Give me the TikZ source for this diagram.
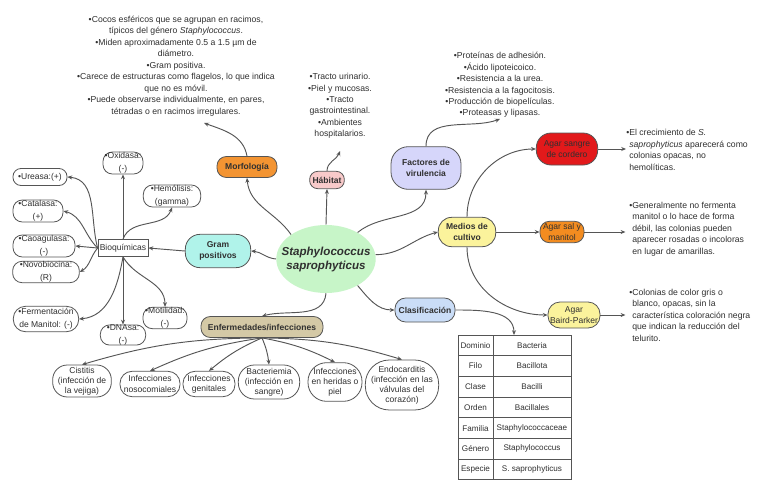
\documentclass[tikz,border=0pt]{standalone}
\usepackage{fontspec}
\setmainfont{Liberation Sans}
\usetikzlibrary{arrows.meta,shapes.geometric}
\definecolor{linec}{HTML}{555555}
\definecolor{txtc}{HTML}{303030}
\definecolor{morfc}{HTML}{F39432}
\definecolor{habc}{HTML}{F8CACA}
\definecolor{gramc}{HTML}{B0F3EA}
\definecolor{factc}{HTML}{D6D6FA}
\definecolor{medc}{HTML}{FBF39C}
\definecolor{sangc}{HTML}{E2191B}
\definecolor{salc}{HTML}{F38C20}
\definecolor{clasc}{HTML}{CADDF7}
\definecolor{enfc}{HTML}{D4C9A6}
\definecolor{centc}{HTML}{C7F5C8}
\newcommand\bgap{\hphantom{•}}
\begin{document}
\begin{tikzpicture}[x=0.75pt, y=-0.75pt, txtc,
  arr/.style = {draw=linec, line width=0.7pt, -{Stealth[length=3.6pt,width=3pt]}},
  topic/.style = {draw=linec, line width=0.6pt, rounded corners=7pt, align=center, inner sep=0pt,
    font=\fontsize{6.4}{7.8}\selectfont\bfseries},
  test/.style = {draw=linec, line width=0.6pt, rounded corners=7pt, fill=white, align=center, inner sep=0pt,
    font=\fontsize{6.4}{9.4}\selectfont},
  dis/.style = {test, font=\fontsize{6.4}{7.6}\selectfont},
  note/.style = {align=center, inner sep=0pt, font=\fontsize{6.5}{8.6}\selectfont},
  side/.style = {note, align=left, anchor=west},
  cell/.style = {draw=linec, line width=0.6pt, inner sep=0pt, font=\fontsize{6.1}{7}\selectfont}]
\useasboundingbox[fill=white] (0,0) rectangle (768,493);

% centro
\node[ellipse, fill=centc, minimum width=73pt, minimum height=51pt, inner xsep=-7pt, inner ysep=0pt, align=center,
  font=\fontsize{8.7}{10.5}\selectfont\bfseries\itshape] (c) at (326,259) {Staphylococcus\\saprophyticus};

% ramas
\node[topic, fill=morfc, minimum width=45pt, minimum height=15.75pt] (morf) at (247,167) {Morfología};
\node[topic, fill=habc, minimum width=26pt, minimum height=13pt, rounded corners=6pt] (hab) at (327,180) {Hábitat};
\node[topic, fill=gramc, minimum width=49pt, minimum height=25pt, rounded corners=11pt] (gram) at (218,251) {Gram\\positivos};
\node[topic, fill=factc, minimum width=52.5pt, minimum height=32pt, rounded corners=13pt] (fact) at (426,168) {Factores de\\virulencia};
\node[topic, fill=medc, minimum width=43pt, minimum height=22pt, rounded corners=10pt] (med) at (467,232) {Medios de\\cultivo};
\node[topic, fill=clasc, minimum width=45pt, minimum height=18pt, rounded corners=8pt] (clas) at (425,310) {Clasificación};
\node[topic, fill=enfc, minimum width=91.5pt, minimum height=15.75pt] (enf) at (262,327) {Enfermedades/infecciones};

% agares
\node[topic, fill=sangc, minimum width=46pt, minimum height=24pt, rounded corners=11pt,
  font=\fontsize{6.4}{7.8}\selectfont] (sang) at (567,149) {Agar sangre\\de cordero};
\node[topic, fill=salc, minimum width=33pt, minimum height=16pt,
  font=\fontsize{6.4}{7.8}\selectfont] (sal) at (562,232) {Agar sal y\\manitol};
\node[topic, fill=medc, minimum width=39pt, minimum height=19.5pt, rounded corners=9pt,
  font=\fontsize{6.4}{7.8}\selectfont] (baird) at (574,315) {Agar\\Baird-Parker};

% textos
\node[note] (morfnote) at (176,66) {•Cocos esféricos que se agrupan en racimos,\\
  típicos del género \textit{Staphylococcus}.\\
  •Miden aproximadamente 0.5 a 1.5 µm de\\
  diámetro.\\
  •Gram positiva.\\
  •Carece de estructuras como flagelos, lo que indica\\
  que no es móvil.\\
  •Puede observarse individualmente, en pares,\\
  tétradas o en racimos irregulares.};
\node[note] (habnote) at (340,106) {•Tracto urinario.\\•Piel y mucosas.\\•Tracto\\gastrointestinal.\\•Ambientes\\hospitalarios.};
\node[note] (factnote) at (500,85) {•Proteínas de adhesión.\\•Ácido lipoteicoico.\\•Resistencia a la urea.\\
  •Resistencia a la fagocitosis.\\•Producción de biopelículas.\\•Proteasas y lipasas.};
\node[side] (sangnote) at (626,150) {•El crecimiento de \textit{S.}\\
  \bgap\textit{saprophyticus} aparecerá como\\\bgap colonias opacas, no\\\bgap hemolíticas.};
\node[side] (salnote) at (629,229) {•Generalmente no fermenta\\\bgap manitol o lo hace de forma\\
  \bgap débil, las colonias pueden\\\bgap aparecer rosadas o incoloras\\\bgap en lugar de amarillas.};
\node[side] (bairdnote) at (629,315) {•Colonias de color gris o\\\bgap blanco, opacas, sin la\\
  \bgap característica coloración negra\\\bgap que indican la reducción del\\\bgap telurito.};
\coordinate (m1) at (204,123);
\coordinate (h1) at (340,151);
\coordinate (f1) at (500,119);

% bioquimicas
\node[draw=linec, line width=0.6pt, fill=white, minimum width=37.5pt, minimum height=12.75pt, inner sep=0pt,
  font=\fontsize{6.4}{7.6}\selectfont] (bq) at (123,248) {Bioquímicas};
\node[test, minimum width=30pt, minimum height=16.5pt] (ox) at (123,163) {•Oxidasa:\\(-)};
\node[test, minimum width=40.5pt, minimum height=12.75pt, rounded corners=6pt] (ure) at (40,177) {•Ureasa:(+)};
\node[test, minimum width=43pt, minimum height=16.5pt] (hem) at (172,196) {•Hemólisis:\\(gamma)};
\node[test, minimum width=37.5pt, minimum height=16.5pt] (cat) at (38,211) {•Catalasa:\\(+)};
\node[test, minimum width=46.5pt, minimum height=16.5pt] (coa) at (44,246) {•Caoagulasa:\\(-)};
\node[test, minimum width=50pt, minimum height=16pt] (nov) at (46,272) {•Novobiocina:\\(R)};
\node[test, minimum width=49pt, minimum height=19pt, rounded corners=9pt] (fer) at (46,319) {•Fermentación\\de Manitol: (-)};
\node[test, minimum width=34pt, minimum height=15pt] (dna) at (123,335) {•DNAsa:\\(-)};
\node[test, minimum width=33pt, minimum height=16pt] (mot) at (165,318) {•Motilidad:\\(-)};

% enfermedades
\node[dis, minimum width=44pt, minimum height=24pt, rounded corners=11pt] (cis) at (82,381) {Cistitis\\(infección de\\la vejiga)};
\node[dis, minimum width=45pt, minimum height=19pt, rounded corners=9pt] (nos) at (150,384) {Infecciones\\nosocomiales};
\node[dis, minimum width=39pt, minimum height=19pt, rounded corners=9pt] (gen) at (209,384) {Infecciones\\genitales};
\node[dis, minimum width=46pt, minimum height=25.5pt, rounded corners=12pt] (bac) at (269,382) {Bacteriemia\\(infección en\\sangre)};
\node[dis, minimum width=40.5pt, minimum height=29pt, rounded corners=14pt] (her) at (335,382) {Infecciones\\en heridas o\\piel};
\node[dis, minimum width=55pt, minimum height=37.5pt, rounded corners=18pt] (endo) at (402,385) {Endocarditis\\(infección en las\\válvulas del\\corazón)};

% tabla
\foreach \a/\b [count=\i] in {Dominio/Bacteria, Filo/Bacillota, Clase/Bacilli, Orden/Bacillales,
    Familia/Staphylococcaceae, Género/Staphylococcus, Especie/S. saprophyticus} {
  \node[cell, minimum width=26.25pt, minimum height=15.5pt] (ta\i) at (475.5,{335+20.7*(\i-0.5)}) {\a};
  \node[cell, minimum width=58.5pt, minimum height=15.5pt] (tb\i) at (532,{335+20.7*(\i-0.5)}) {\b};
}
\coordinate (tab) at (514,335);

% conexiones
\draw[arr] (c.145) to[out=125,in=-85] (morf.south);
\draw[arr] (c.north) -- (hab.south);
\draw[arr] (c.40) to[out=40,in=-90] (fact.south);
\draw[arr] (c.5) to[out=0,in=195] (med.west);
\draw[arr] (c.-40) to[out=-50,in=180] (clas.west);
\draw[arr] (c.south) to[out=-95,in=15] (enf.north);
\draw[arr] (c.west) to[out=175,in=-5] (gram.east);
\draw[arr] (gram.west) -- (bq.east);

\draw[arr] (morf.north) to[out=100,in=-20] (m1);
\draw[arr] (hab.north) to[out=90,in=-110] (h1);
\draw[arr] (fact.north) to[out=90,in=200] (f1);

\draw[arr] (med.north) to[out=90,in=180] (sang.west);
\draw[arr] (med.east) -- (sal.west);
\draw[arr] (med.south) to[out=-90,in=180] (baird.west);
\draw[arr] (sang.east) -- (sang.east -| sangnote.west);
\draw[arr] (sal.east) -- ++(41,0);
\draw[arr] (baird.east) -- ++(25,0);
\draw[arr] (clas.east) to[out=0,in=90] (tab);

\draw[arr] (bq.north) -- (ox.south);
\draw[arr] (bq.west) to[out=105,in=-5] (ure.east);
\draw[arr] (bq.west) to[out=135,in=-15] (cat.east);
\draw[arr] (bq.west) -- (coa.east);
\draw[arr] (bq.west) to[out=-130,in=30] (nov.east);
\draw[arr] (bq.south) to[out=-100,in=5] (fer.east);
\draw[arr] (bq.north) to[out=70,in=-110] (hem.south);
\draw[arr] (bq.south) -- (dna.north);
\draw[arr] (bq.south) to[out=-60,in=90] (mot.north);

\foreach \d in {cis,nos,gen} \draw[arr] (enf.south) to[bend right=8] (\d.north);
\foreach \d in {bac,her,endo} \draw[arr] (enf.south) to[bend left=8] (\d.north);
\end{tikzpicture}
\end{document}
